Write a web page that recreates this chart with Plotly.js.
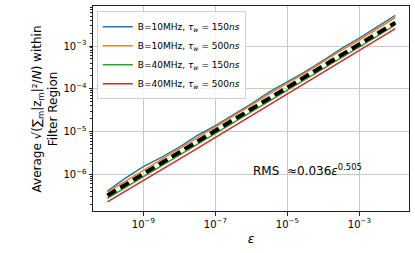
<!DOCTYPE html>
<html><head><meta charset="utf-8">
<script src="https://cdn.plot.ly/plotly-3.0.1.min.js"></script>
<style>html,body{margin:0;padding:0;background:#fff}#c{width:415px;height:253px}</style>
</head><body><div id="c"></div>
<script>
const eps = [1e-10,3.162e-10,1e-9,3.162e-9,1e-8,3.162e-8,1e-7,3.162e-7,1e-6,3.162e-6,1e-5,3.162e-5,1e-4,3.162e-4,1e-3,3.162e-3,1e-2];
const blue10_150 = [4.04e-7,8.11e-7,1.52e-6,2.48e-6,4.33e-6,8.10e-6,1.38e-5,2.42e-5,4.43e-5,8.49e-5,1.48e-4,2.53e-4,4.64e-4,8.69e-4,1.52e-3,2.78e-3,5.20e-3];
const orange10_500 = [3.86e-7,6.90e-7,1.26e-6,2.21e-6,3.95e-6,7.22e-6,1.26e-5,2.26e-5,4.13e-5,7.57e-5,1.32e-4,2.36e-4,4.33e-4,7.92e-4,1.38e-3,2.53e-3,4.64e-3];
const green40_150 = [2.73e-7,4.88e-7,8.73e-7,1.56e-6,2.79e-6,5.00e-6,8.94e-6,1.60e-5,2.93e-5,5.23e-5,9.36e-5,1.67e-4,2.99e-4,5.36e-4,9.58e-4,1.71e-3,3.13e-3];
const red40_500 = [2.27e-7,4.00e-7,7.10e-7,1.27e-6,2.27e-6,4.06e-6,7.27e-6,1.30e-5,2.38e-5,4.25e-5,7.61e-5,1.36e-4,2.43e-4,4.35e-4,7.79e-4,1.42e-3,2.55e-3];
const fitRMS = [3.208e-7,5.739e-7,1.026e-6,1.835e-6,3.283e-6,5.872e-6,1.050e-5,1.878e-5,3.359e-5,6.009e-5,1.075e-4,1.922e-4,3.438e-4,6.149e-4,1.100e-3,1.967e-3,3.518e-3];
const names = ["B=10MHz, <i>τ<sub>w</sub></i> = 150<i>ns</i>","B=10MHz, <i>τ<sub>w</sub></i> = 500<i>ns</i>","B=40MHz, <i>τ<sub>w</sub></i> = 150<i>ns</i>","B=40MHz, <i>τ<sub>w</sub></i> = 500<i>ns</i>"];
const xTickVals = [1e-9,1e-7,1e-5,1e-3];
const xTickText = ["10<sup>−9</sup>","10<sup>−7</sup>","10<sup>−5</sup>","10<sup>−3</sup>"];
const yTickVals = [1e-6,1e-5,1e-4,1e-3];
const yTickText = ["10<sup>−6</sup>","10<sup>−5</sup>","10<sup>−4</sup>","10<sup>−3</sup>"];

const colors = ["#1f77b4","#ff7f0e","#2ca02c","#d62728"];
const series = [blue10_150, orange10_500, green40_150, red40_500];
const traces = series.map((s,i)=>({x:eps,y:s,mode:"lines",name:names[i],line:{color:colors[i],width:1.5}}));
traces.push({x:eps,y:fitRMS,mode:"lines",showlegend:false,line:{color:"#000",width:4,dash:"10px,5px"}});

const minorY=[];
for(let d=-7; d<=-3; d++){for(let k=2;k<=9;k++){minorY.push(k*Math.pow(10,d));}}

const layout = {
  width:415, height:253,
  margin:{l:93, r:6, t:6, b:42},
  paper_bgcolor:"#fff", plot_bgcolor:"#fff",
  showlegend:true,
  font:{family:"DejaVu Sans", size:10, color:"#000"},
  xaxis:{type:"log", range:[-10.4,-1.62], tickvals:xTickVals, ticktext:xTickText,
    ticks:"outside", ticklen:3.5, tickcolor:"#222", showline:true, linecolor:"#222", linewidth:1, mirror:true,
    showgrid:true, gridcolor:"#c8c8c8", gridwidth:1, zeroline:false,
    tickfont:{family:"DejaVu Sans", size:10},
    title:{text:"<i>ε</i>", font:{family:"DejaVu Sans", size:12}, standoff:6}},
  yaxis:{type:"log", range:[-6.857,-2.065], tickvals:yTickVals, ticktext:yTickText,
    ticks:"outside", ticklen:3.5, tickcolor:"#222", showline:true, linecolor:"#222", linewidth:1, mirror:true,
    showgrid:true, gridcolor:"#c8c8c8", gridwidth:1, zeroline:false,
    tickfont:{family:"DejaVu Sans", size:10},
    minor:{tickvals:minorY, ticks:"outside", ticklen:2, tickcolor:"#222", showgrid:false}},
  legend:{x:0.012, y:0.975, xanchor:"left", yanchor:"top", bgcolor:"rgba(255,255,255,0.8)",
    bordercolor:"#d0d0d0", borderwidth:1, font:{family:"DejaVu Sans", size:9}, tracegroupgap:0,
    itemwidth:30},
  annotations:[
    {xref:"x", yref:"y", x:-6, y:-6.14, xanchor:"left", yanchor:"bottom", showarrow:false,
     text:"RMS  ≈0.036<i>ε</i><sup>0.505</sup>", font:{family:"DejaVu Sans", size:12, color:"#000"}},
    {xref:"paper", yref:"paper", x:-0.152, y:0.5, xanchor:"center", yanchor:"middle", showarrow:false, textangle:-90,
     text:"Average √(∑<sub>m</sub>|z<sub>m</sub>|²/<i>N</i>) within<br>Filter Region", font:{family:"DejaVu Sans", size:12, color:"#000"}}
  ]
};
Plotly.newPlot("c", traces, layout, {staticPlot:true, displayModeBar:false});
</script></body></html>
